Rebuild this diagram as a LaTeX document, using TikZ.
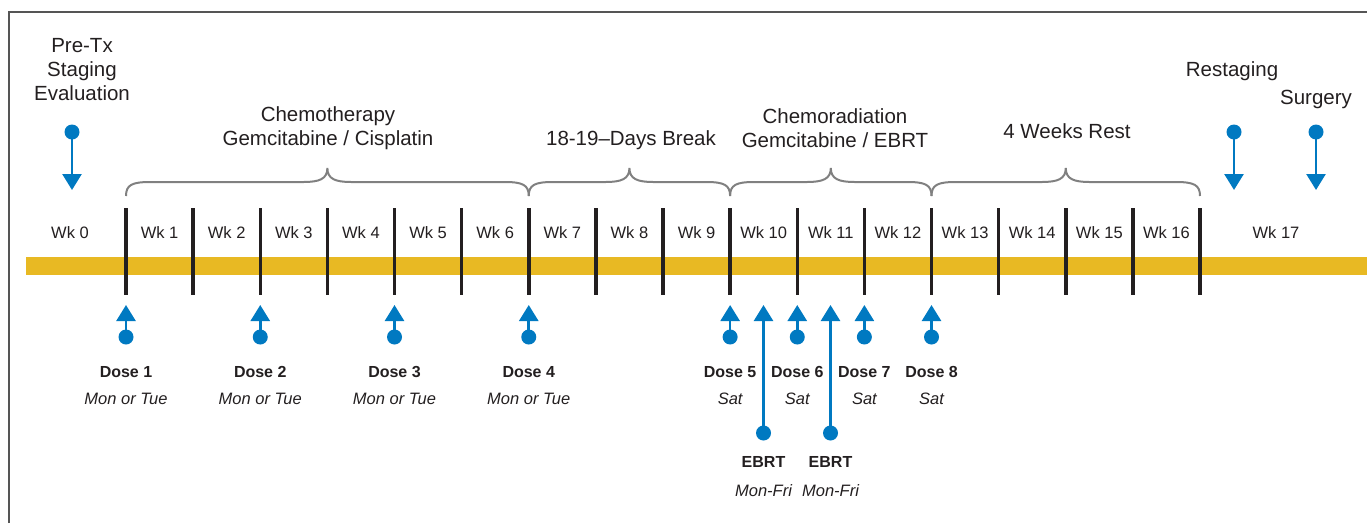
\documentclass[tikz,border=0pt]{standalone}
\usepackage{fontspec}
\setmainfont{Liberation Sans}
\usetikzlibrary{arrows.meta,calc}
\definecolor{tblue}{HTML}{0079C1}
\definecolor{tyellow}{HTML}{E8B923}
\definecolor{tink}{HTML}{231F20}
\definecolor{tgray}{HTML}{808080}
\definecolor{tframe}{HTML}{555555}
\tikzset{
  head/.style={font=\fontsize{20.5}{24}\selectfont, text=tink, inner sep=0pt, align=center},
  wk/.style={font=\fontsize{16.5}{19}\selectfont, text=tink, inner sep=0pt},
  dose/.style={font=\bfseries\fontsize{16}{19}\selectfont, text=tink, inner sep=0pt},
  day/.style={font=\itshape\fontsize{16.5}{19}\selectfont, text=tink, inner sep=0pt},
  dot/.style={circle, fill=tblue, inner sep=0pt, minimum size=15pt},
  conn/.style={draw=tblue, line width=2.6pt, -{Triangle[width=19pt,length=16pt]}, shorten <=-1pt},
  tick/.style={draw=tink, line width=3.5pt},
  brace/.style={draw=tgray, line width=2pt},
}
\begin{document}
\begin{tikzpicture}[x=1pt,y=-1pt]
\useasboundingbox (0,0) rectangle (1367,523);
% frame
\draw[tframe, line width=1.3pt] (9,523) -- (9,12) -- (1367,12);
% bar
\fill[tyellow] (26,257) rectangle (1367,275);
% ticks
\foreach \i in {1,...,17}{
  \pgfmathsetmacro{\xx}{126+(\i-1)*67.125}
  \coordinate (t\i) at (\xx,208);
  \coordinate (b\i) at (\xx,295);
  \draw[tick] (t\i) -- (b\i);
}
% week labels
\node[wk] (w0) at (70,233) {Wk 0};
\foreach \i in {1,...,16}{
  \pgfmathsetmacro{\xx}{126+(\i-0.5)*67.125}
  \node[wk] (w\i) at (\xx,233) {Wk \i};
}
\node[wk] (w17) at (1276,233) {Wk 17};
% braces
\foreach \a/\b in {126/528.75, 528.75/730.1, 730.1/931.5, 931.5/1200}{
  \pgfmathsetmacro{\m}{(\a+\b)/2}
  \draw[brace] (\a,196) .. controls (\a,185) and (\a+6,182) .. (\a+24,182)
     -- (\m-24,182) .. controls (\m-8,182) and (\m,179) .. (\m,168)
     .. controls (\m,179) and (\m+8,182) .. (\m+24,182)
     -- (\b-24,182) .. controls (\b-6,182) and (\b,185) .. (\b,196);
}
% headers
\node[head] (pre) at (82,70) {Pre-Tx\\Staging\\Evaluation};
\node[head] (chemo1) at (328,116) {Chemotherapy};
\node[head] (chemo2) at (328,140) {Gemcitabine / Cisplatin};
\node[head] (brk) at (631,140) {18-19–Days Break};
\node[head] (cr1) at (835,116) {Chemoradiation};
\node[head] (cr2) at (835,140) {Gemcitabine / EBRT};
\node[head] (rest) at (1067,131) {4 Weeks Rest};
\node[head] (restg) at (1232,71) {Restaging};
\node[head] (surg) at (1316,99) {Surgery};
% top arrows
\node[dot] (d0) at (72,132) {};
\coordinate (a0) at (72,190);
\draw[conn] (d0.center) -- (a0);
\node[dot] (dr) at (1234,132) {};
\coordinate (ar) at (1234,190);
\draw[conn] (dr.center) -- (ar);
\node[dot] (ds) at (1316,132) {};
\coordinate (as) at (1316,190);
\draw[conn] (ds.center) -- (as);
% dose arrows
\foreach \n/\t/\d in {1/1/Mon or Tue, 2/3/Mon or Tue, 3/5/Mon or Tue, 4/7/Mon or Tue, 5/10/Sat, 6/11/Sat, 7/12/Sat, 8/13/Sat}{
  \node[dot] (dd\n) at ($(t\t)+(0,129)$) {};
  \coordinate (da\n) at ($(t\t)+(0,97)$);
  \draw[conn] (dd\n.center) -- (da\n);
  \node[dose] (dl\n) at ($(t\t)+(0,164)$) {Dose \n};
  \node[day] (dy\n) at ($(t\t)+(0,191)$) {\d};
}
% EBRT arrows
\foreach \n/\x in {1/763.5, 2/830.5}{
  \node[dot] (ed\n) at (\x,433) {};
  \coordinate (ea\n) at (\x,305);
  \draw[conn] (ed\n.center) -- (ea\n);
  \node[dose] (el\n) at (\x,462) {EBRT};
  \node[day] (ey\n) at (\x,491) {Mon-Fri};
}
\end{tikzpicture}
\end{document}
